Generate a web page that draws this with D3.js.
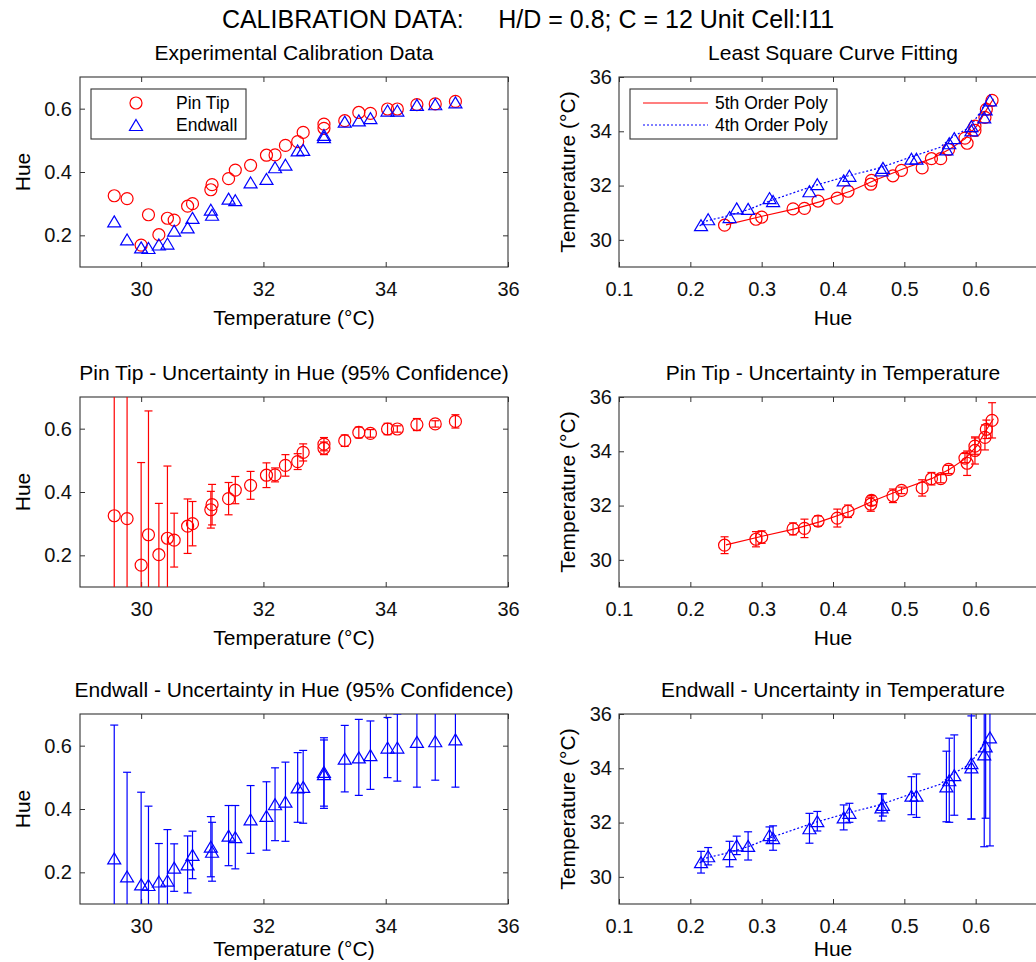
<!DOCTYPE html>
<html><head><meta charset="utf-8">
<script src="https://cdn.jsdelivr.net/npm/d3@7"></script>
<style>body{margin:0;background:#fff} svg{display:block;font-family:"Liberation Sans",Arial,sans-serif}</style>
</head><body><svg id="c" width="1036" height="962"></svg>
<script>
// ---- data ----
const temperature = [29.56, 29.77, 30.00, 30.12, 30.29, 30.43, 30.54, 30.76, 30.84, 31.14, 31.16, 31.43, 31.54, 31.79, 32.05, 32.19, 32.36, 32.56, 32.65, 32.99, 32.99, 33.33, 33.56, 33.75, 34.03, 34.19, 34.51, 34.81, 35.14];
const pinTipHue = [0.325, 0.316, 0.169, 0.265, 0.202, 0.254, 0.248, 0.292, 0.300, 0.344, 0.360, 0.379, 0.406, 0.421, 0.453, 0.454, 0.484, 0.496, 0.525, 0.551, 0.538, 0.562, 0.588, 0.585, 0.599, 0.599, 0.613, 0.615, 0.623];
const endwallHue = [0.244, 0.187, 0.162, 0.160, 0.171, 0.174, 0.215, 0.225, 0.255, 0.281, 0.265, 0.316, 0.311, 0.367, 0.378, 0.415, 0.423, 0.468, 0.470, 0.517, 0.510, 0.559, 0.563, 0.570, 0.594, 0.594, 0.612, 0.614, 0.620];
const pinTipHueErr = [0.60, 0.60, 0.324, 0.391, 0.162, 0.228, 0.085, 0.086, 0.070, 0.058, 0.064, 0.051, 0.043, 0.044, 0.039, 0.022, 0.034, 0.025, 0.027, 0.021, 0.020, 0.018, 0.017, 0.012, 0.018, 0.010, 0.019, 0.010, 0.021];
const endwallHueErr = [0.421, 0.329, 0.291, 0.249, 0.120, 0.161, 0.075, 0.090, 0.075, 0.095, 0.093, 0.095, 0.100, 0.107, 0.108, 0.115, 0.125, 0.110, 0.115, 0.108, 0.108, 0.105, 0.120, 0.108, 0.095, 0.106, 0.143, 0.123, 0.151];
// temperature uncertainty (only points used in the curve fit; null = not fitted)
const pinTipTempErr = [null, null, null, null, null, null, 0.31, 0.28, 0.23, 0.22, 0.34, 0.19, 0.33, 0.23, 0.26, 0.18, 0.25, 0.12, 0.30, 0.15, 0.23, 0.15, 0.45, 0.17, 0.50, 0.30, 0.46, 0.34, 0.65];
const endwallTempErr = [null, null, null, null, null, null, 0.40, 0.32, 0.47, 0.52, 0.34, 0.45, 0.30, 0.55, 0.36, 0.46, 0.35, 0.50, 0.41, 0.80, 0.70, 1.30, 1.55, 1.48, 1.90, 2.06, 3.40, 2.65, 4.00];
// least-square fit curves
const fit5Hue  = [0.250, 0.302, 0.345, 0.381, 0.424, 0.457, 0.498, 0.539, 0.564, 0.585, 0.602, 0.616, 0.625];
const fit5Temp = [30.55, 30.88, 31.13, 31.40, 31.79, 32.18, 32.61, 33.00, 33.35, 33.72, 34.21, 34.83, 35.20];
const fit4Hue  = [0.213, 0.223, 0.252, 0.283, 0.312, 0.373, 0.419, 0.465, 0.508, 0.550, 0.567, 0.592, 0.608, 0.616];
const fit4Temp = [30.51, 30.70, 30.88, 31.13, 31.44, 31.99, 32.34, 32.65, 33.04, 33.41, 33.78, 34.15, 34.77, 35.20];
// ticks
const tempTicks = [30, 32, 34, 36];
const hueTicksY = [0.2, 0.4, 0.6];
const hueTicksX = [0.1, 0.2, 0.3, 0.4, 0.5, 0.6];
const tempDomain = [29, 36];
const hueDomain = [0.1, 0.7];

// ---- drawing ----
const RED = "#ff0000", BLUE = "#0000ff", FONT = '"Liberation Sans", Arial, sans-serif';
const svg = d3.select("#c");
svg.append("rect").attr("width", 1036).attr("height", 962).attr("fill", "#fff");
const PW = 428, PH = 190;
let cid = 0;

svg.append("text").attr("x", 528).attr("y", 28).attr("text-anchor", "middle")
  .attr("font-size", 25).attr("xml:space", "preserve").style("white-space", "pre")
  .text("CALIBRATION DATA:     H/D = 0.8; C = 12 Unit Cell:I11");

function panel(o) {
  const g = svg.append("g").attr("transform", `translate(${o.x},${o.y})`);
  const x = d3.scaleLinear().domain(o.xd).range([0, PW]);
  const y = d3.scaleLinear().domain(o.yd).range([PH, 0]);
  const id = "clip" + (cid++);
  g.append("clipPath").attr("id", id).append("rect").attr("width", PW).attr("height", PH);
  const fmt = d => String(d);
  g.append("g").attr("transform", `translate(0,${PH})`)
    .call(d3.axisBottom(x).tickValues(o.xt).tickSize(-5).tickPadding(15).tickFormat(fmt));
  g.append("g").call(d3.axisTop(x).tickValues(o.xt).tickSize(-5).tickFormat(""));
  g.append("g").call(d3.axisLeft(y).tickValues(o.yt).tickSize(-5).tickPadding(o.ypad).tickFormat(fmt));
  g.append("g").attr("transform", `translate(${PW},0)`)
    .call(d3.axisRight(y).tickValues(o.yt).tickSize(-5).tickFormat(""));
  g.selectAll(".domain").remove();
  g.selectAll(".tick line").attr("stroke", "#333").attr("stroke-width", 1);
  g.selectAll(".tick text").attr("font-size", 20).attr("fill", "#111").attr("font-family", FONT);
  g.append("rect").attr("width", PW).attr("height", PH).attr("fill", "none").attr("stroke", "#333").attr("stroke-width", 1.1);
  g.append("text").attr("x", PW / 2).attr("y", -17).attr("text-anchor", "middle").attr("font-size", 21).text(o.title);
  g.append("text").attr("x", PW / 2).attr("y", PH + (o.xly || 58)).attr("text-anchor", "middle").attr("font-size", 21).text(o.xlabel);
  g.append("text").attr("transform", `translate(${o.ylx},${PH / 2}) rotate(-90)`).attr("text-anchor", "middle")
    .attr("font-size", 21).text(o.ylabel);
  const plot = g.append("g").attr("clip-path", `url(#${id})`);
  return { g, plot, x, y };
}

function circles(p, xs, ys, color) {
  p.plot.selectAll(null).data(xs).enter().append("circle")
    .attr("cx", d => p.x(d)).attr("cy", (d, i) => p.y(ys[i])).attr("r", 6)
    .attr("fill", "none").attr("stroke", color).attr("stroke-width", 1.2);
}
const triPath = "M0,-5.5L6.5,5.5L-6.5,5.5Z";
function triangles(p, xs, ys, color) {
  p.plot.selectAll(null).data(xs).enter().append("path")
    .attr("d", triPath).attr("transform", (d, i) => `translate(${p.x(d)},${p.y(ys[i])})`)
    .attr("fill", "none").attr("stroke", color).attr("stroke-width", 1.2);
}
function errbars(p, xs, ys, es, color) {
  const idx = d3.range(xs.length).filter(i => es[i] != null);
  const gg = p.plot.append("g").attr("stroke", color).attr("stroke-width", 1.2);
  idx.forEach(i => {
    const cx = p.x(xs[i]), y1 = p.y(ys[i] - es[i]), y2 = p.y(ys[i] + es[i]);
    gg.append("line").attr("x1", cx).attr("x2", cx).attr("y1", y1).attr("y2", y2);
    gg.append("line").attr("x1", cx - 4).attr("x2", cx + 4).attr("y1", y1).attr("y2", y1);
    gg.append("line").attr("x1", cx - 4).attr("x2", cx + 4).attr("y1", y2).attr("y2", y2);
  });
}
function curve(p, xs, ys, color, dash) {
  const line = d3.line().x(d => p.x(d)).y((d, i) => p.y(ys[i]));
  p.plot.append("path").attr("d", line(xs)).attr("fill", "none").attr("stroke", color)
    .attr("stroke-width", 1.2).attr("stroke-dasharray", dash || null);
}
const fitIdx = d3.range(temperature.length).filter(i => pinTipTempErr[i] != null);
const sub = arr => fitIdx.map(i => arr[i]);

const L = { xd: tempDomain, yd: hueDomain, xt: tempTicks, yt: hueTicksY, ypad: 8, ylx: -50, xlabel: "Temperature (°C)", ylabel: "Hue" };
const R = { xd: hueDomain, yd: tempDomain, xt: hueTicksX, yt: tempTicks, ypad: 7, ylx: -44, xlabel: "Hue", ylabel: "Temperature (°C)" };
const rows = [77, 397, 714];

// Row 1 left
const p1 = panel(Object.assign({}, L, { x: 80, y: rows[0], title: "Experimental Calibration Data" }));
circles(p1, temperature, pinTipHue, RED);
triangles(p1, temperature, endwallHue, BLUE);
const lg1 = p1.g.append("g").attr("transform", "translate(11,12)");
lg1.append("rect").attr("width", 155).attr("height", 50).attr("fill", "#fff").attr("stroke", "#333").attr("stroke-width", 1.1);
lg1.append("circle").attr("cx", 45).attr("cy", 14).attr("r", 6).attr("fill", "none").attr("stroke", RED).attr("stroke-width", 1.2);
lg1.append("path").attr("d", triPath).attr("transform", "translate(45,36)").attr("fill", "none").attr("stroke", BLUE).attr("stroke-width", 1.2);
lg1.append("text").attr("x", 85).attr("y", 20).attr("font-size", 17.5).text("Pin Tip");
lg1.append("text").attr("x", 85).attr("y", 42).attr("font-size", 17.5).text("Endwall");

// Row 1 right
const p2 = panel(Object.assign({}, R, { x: 619, y: rows[0], title: "Least Square Curve Fitting" }));
curve(p2, fit5Hue, fit5Temp, RED);
curve(p2, fit4Hue, fit4Temp, BLUE, "2,2");
circles(p2, sub(pinTipHue), sub(temperature), RED);
triangles(p2, sub(endwallHue), sub(temperature), BLUE);
const lg2 = p2.g.append("g").attr("transform", "translate(11,12)");
lg2.append("rect").attr("width", 207).attr("height", 50).attr("fill", "#fff").attr("stroke", "#333").attr("stroke-width", 1.1);
lg2.append("line").attr("x1", 13).attr("x2", 78).attr("y1", 14).attr("y2", 14).attr("stroke", RED).attr("stroke-width", 1.2);
lg2.append("line").attr("x1", 13).attr("x2", 78).attr("y1", 36).attr("y2", 36).attr("stroke", BLUE).attr("stroke-width", 1.2).attr("stroke-dasharray", "2,2");
lg2.append("text").attr("x", 85).attr("y", 20).attr("font-size", 17.5).text("5th Order Poly");
lg2.append("text").attr("x", 85).attr("y", 42).attr("font-size", 17.5).text("4th Order Poly");

// Row 2
const p3 = panel(Object.assign({}, L, { x: 80, y: rows[1], title: "Pin Tip - Uncertainty in Hue (95% Confidence)" }));
errbars(p3, temperature, pinTipHue, pinTipHueErr, RED);
circles(p3, temperature, pinTipHue, RED);
const p4 = panel(Object.assign({}, R, { x: 619, y: rows[1], title: "Pin Tip - Uncertainty in Temperature" }));
curve(p4, fit5Hue, fit5Temp, RED);
errbars(p4, sub(pinTipHue), sub(temperature), sub(pinTipTempErr), RED);
circles(p4, sub(pinTipHue), sub(temperature), RED);

// Row 3
const p5 = panel(Object.assign({}, L, { x: 80, y: rows[2], xly: 52, title: "Endwall - Uncertainty in Hue (95% Confidence)" }));
errbars(p5, temperature, endwallHue, endwallHueErr, BLUE);
triangles(p5, temperature, endwallHue, BLUE);
const p6 = panel(Object.assign({}, R, { x: 619, y: rows[2], xly: 52, title: "Endwall - Uncertainty in Temperature" }));
curve(p6, fit4Hue, fit4Temp, BLUE, "2,2");
errbars(p6, sub(endwallHue), sub(temperature), sub(endwallTempErr), BLUE);
triangles(p6, sub(endwallHue), sub(temperature), BLUE);
</script></body></html>
